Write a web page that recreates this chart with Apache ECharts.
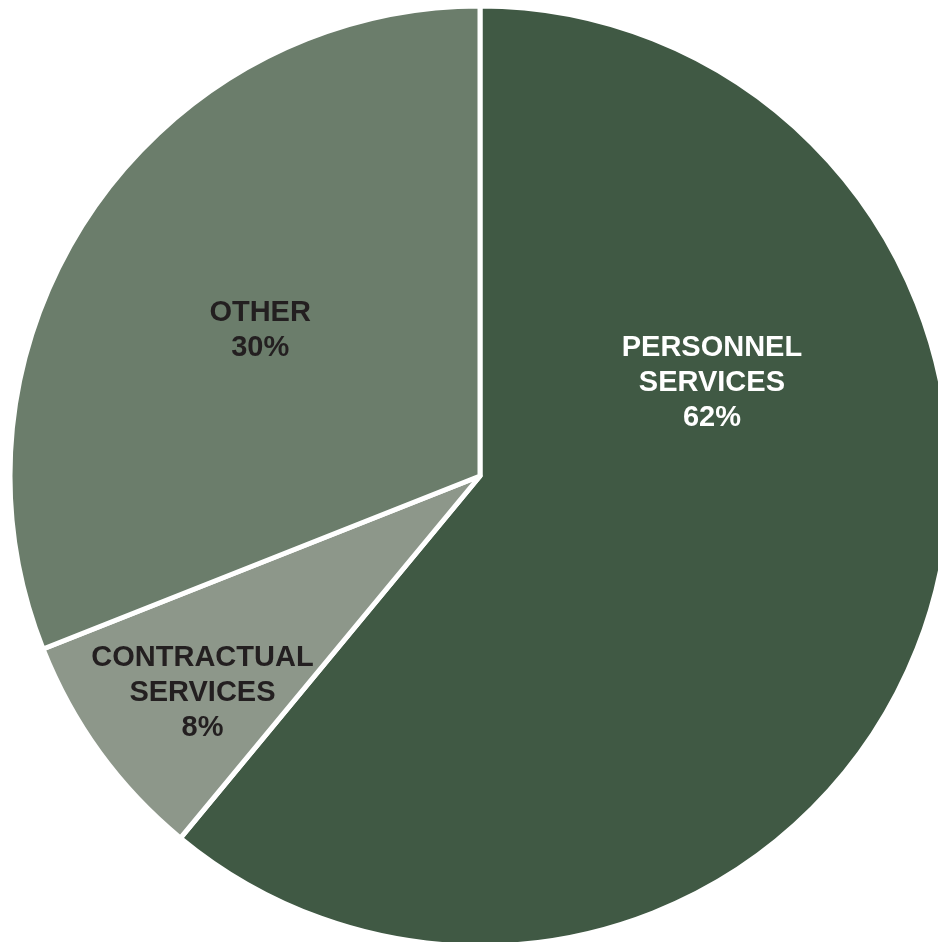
<!DOCTYPE html>
<html>
<head>
<meta charset="utf-8">
<script src="https://cdn.jsdelivr.net/npm/echarts@6/dist/echarts.min.js"></script>
<style>
html,body{margin:0;padding:0;background:#fff;}
#chart{width:938px;height:942px;}
</style>
</head>
<body>
<div id="chart"></div>
<script>
// Data
const categories = ['PERSONNEL\nSERVICES', 'CONTRACTUAL\nSERVICES', 'OTHER'];
const values = [61, 8, 31];            // slice sizes
const pctLabels = ['62%', '8%', '30%']; // printed percentages
const colors = ['#405944', '#8d978a', '#6b7d6b'];
const labelColors = ['#ffffff', '#231f20', '#231f20'];
// label offsets from default inside position (layout only)
const labelShift = [[8, -174], [-85, 77], [-23, -12]];

const chart = echarts.init(document.getElementById('chart'), null, {renderer: 'canvas'});
const data = categories.map((c, i) => ({
  name: c,
  value: values[i],
  itemStyle: {color: colors[i]},
  label: {color: labelColors[i]}
}));

chart.setOption({
  animation: false,
  series: [{
    type: 'pie',
    center: [480, 476],
    radius: [0, 470],
    startAngle: 90,
    clockwise: true,
    data: data,
    itemStyle: {borderColor: '#ffffff', borderWidth: 5},
    label: {
      show: true,
      position: 'inside',
      fontFamily: 'Liberation Sans, Arial, sans-serif',
      fontWeight: 'bold',
      fontSize: 29,
      lineHeight: 35,
      align: 'center',
      formatter: p => p.name + '\n' + pctLabels[p.dataIndex]
    },
    labelLine: {show: false},
    emphasis: {disabled: true},
    labelLayout: function (params) {
      const s = labelShift[params.dataIndex];
      return {dx: s[0], dy: s[1]};
    }
  }]
});
</script>
</body>
</html>
